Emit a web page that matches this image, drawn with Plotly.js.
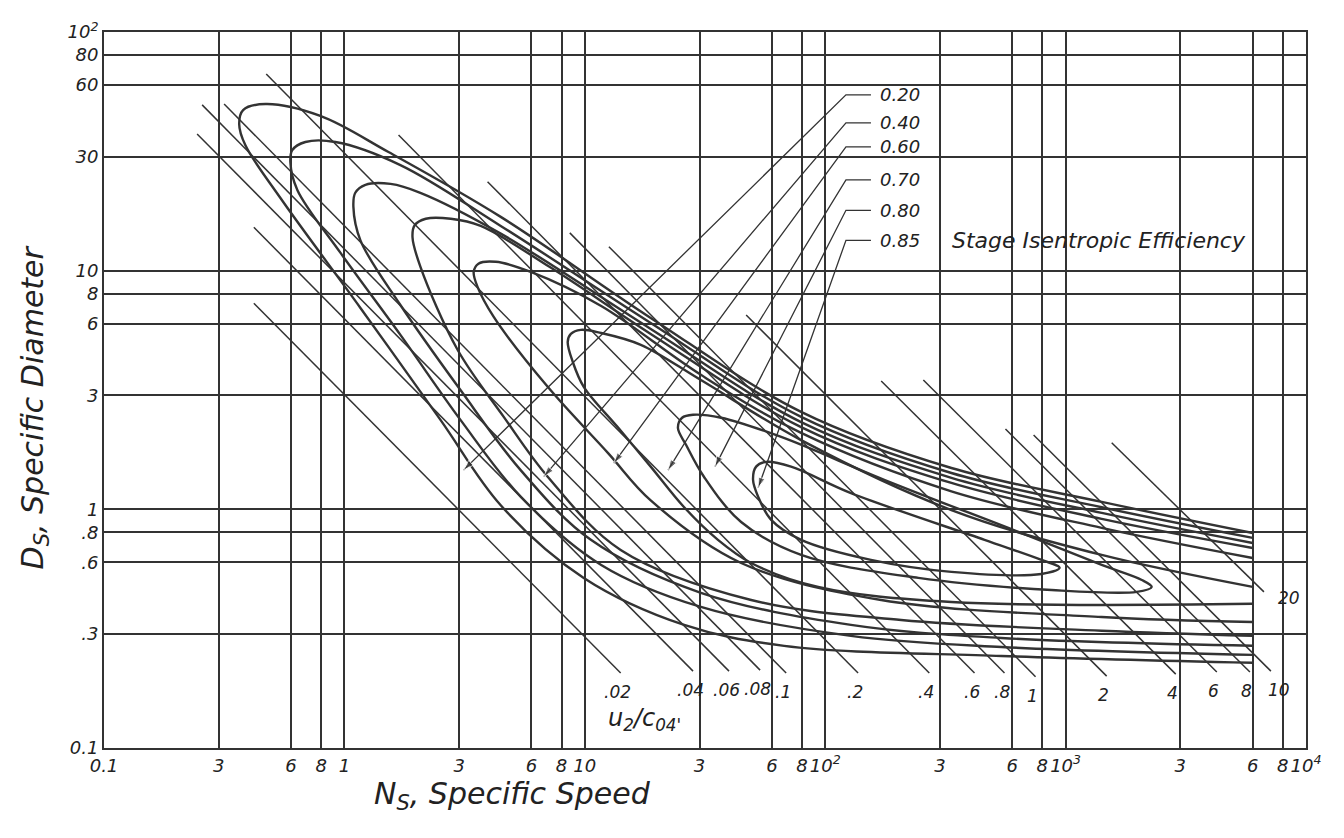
<!DOCTYPE html>
<html><head><meta charset="utf-8">
<script src="https://cdn.plot.ly/plotly-3.0.1.min.js"></script>
<style>html,body{margin:0;padding:0;background:#fff}#chart{width:1344px;height:838px}</style>
</head><body><div id="chart"></div>
<script>
// ---- axis ticks ----
const xTickVals = [0.1, 0.3, 0.6, 0.8, 1, 3, 6, 8, 10, 30, 60, 80, 100, 300, 600, 800, 1000, 3000, 6000, 8000, 10000];
const xTickText = ['0.1','3','6','8','1','3','6','8','10','3','6','8','10<sup>2</sup>','3','6','8','10<sup>3</sup>','3','6','8','10<sup>4</sup>'];
const yTickVals = [0.1, 0.3, 0.6, 0.8, 1, 3, 6, 8, 10, 30, 60, 80, 100];
const yTickText = ['0.1','.3','.6','.8','1','3','6','8','10','30','60','80','10<sup>2</sup>'];

// ---- u2/c04' lines (Ns, Ds at both ends) ----
const uRatio   = ['.02','.04','.06','.08','.1','.2','.4','.6','.8','1','2','4','6','8','10','20'];
const uStartNs = [0.42, 0.42, 0.244, 0.256, 0.316, 0.473, 1.68, 3.94, 8.66, 12.6, 46.9, 171, 256, 562, 736, 1555];
const uStartDs = [7.3, 15.2, 37.4, 49.5, 49.9, 66.7, 37.0, 23.6, 14.4, 12.6, 6.52, 3.45, 3.48, 2.17, 2.05, 1.90];
const uEndNs   = [14.1, 28.2, 39.8, 53.6, 68.8, 137, 271, 418, 557, 750, 1482, 2872, 4256, 5843, 7145, 6683];
const uEndDs   = [0.206, 0.21, 0.21, 0.212, 0.206, 0.206, 0.206, 0.206, 0.206, 0.199, 0.2, 0.204, 0.208, 0.208, 0.21, 0.451];

// ---- efficiency contours ----
const loop1Ns = [6000, 1413, 335, 79.4, 18.8, 4.47, 1.525, 0.794, 0.469, 0.379, 0.365, 0.387, 0.541, 1.166, 2.51, 4.47, 9.9, 25.9, 67.5, 541, 6000];
const loop1Ds = [0.796, 1.074, 1.49, 2.56, 6.34, 16.8, 31.4, 44.5, 49.9, 47.1, 41.2, 33.6, 20.2, 6.98, 2.37, 1.04, 0.516, 0.328, 0.268, 0.243, 0.2275];
const loop2Ns = [6000, 1413, 335, 79.4, 18.8, 4.47, 1.71, 0.917, 0.688, 0.607, 0.596, 0.637, 0.962, 1.71, 3.04, 5.41, 11.7, 30.4, 128, 541, 6000];
const loop2Ds = [0.759, 1.02, 1.42, 2.44, 6.04, 15.4, 27.7, 34.6, 34.6, 32.0, 28.5, 21.8, 11.9, 5.38, 2.37, 1.13, 0.585, 0.390, 0.295, 0.265, 0.2455];
const loop3Ns = [6000, 1413, 335, 79.4, 18.8, 4.47, 2.07, 1.556, 1.223, 1.11, 1.09, 1.166, 1.71, 3.04, 5.41, 10.6, 30.4, 128, 541, 6000];
const loop3Ds = [0.723, 0.966, 1.355, 2.32, 5.70, 14.3, 21.2, 23.1, 22.9, 21.2, 18.5, 13.4, 7.18, 3.16, 1.46, 0.745, 0.447, 0.328, 0.289, 0.268];
const loop4Ns = [6000, 1413, 335, 79.4, 18.8, 7.21, 3.69, 2.77, 2.18, 1.96, 1.92, 2.07, 2.96, 4.60, 7.01, 14.1, 49.2, 207, 1413, 6000];
const loop4Ds = [0.689, 0.912, 1.29, 2.21, 5.43, 10.3, 15.4, 16.5, 16.5, 15.5, 13.8, 10.4, 4.65, 2.44, 1.37, 0.676, 0.417, 0.344, 0.310, 0.295];
const loop5Ns = [6000, 1413, 335, 79.4, 30.4, 11.7, 5.96, 4.26, 3.61, 3.45, 3.58, 4.18, 7.01, 12.5, 18.8, 44.7, 171, 1413, 6000];
const loop5Ds = [0.625, 0.836, 1.19, 2.09, 3.66, 7.11, 9.88, 10.9, 10.7, 9.88, 8.55, 6.40, 3.26, 1.72, 1.09, 0.596, 0.417, 0.354, 0.337];
const loop6Ns = [6000, 1413, 335, 79.4, 30.4, 17.1, 11.7, 9.62, 8.75, 8.49, 8.91, 9.9, 13.7, 18.8, 25.9, 35.8, 49.2, 93.5, 335, 6000];
const loop6Ds = [0.473, 0.644, 0.993, 1.95, 3.48, 4.89, 5.48, 5.65, 5.43, 5.03, 4.15, 3.26, 2.21, 1.51, 1.02, 0.745, 0.596, 0.473, 0.409, 0.402];
const loop7Ns = [24.4, 25.4, 28.2, 36.9, 65.6, 176, 637, 1413, 2075, 2282, 1977, 875, 244, 79.4, 44.7, 31.3, 26.4, 24.4];
const loop7Ds = [2.19, 2.42, 2.49, 2.42, 2.01, 1.33, 0.804, 0.585, 0.506, 0.473, 0.451, 0.459, 0.516, 0.644, 0.885, 1.37, 1.86, 2.19];
const loop8Ns = [50.1, 51.6, 56.8, 72.1, 128, 460, 794, 944, 794, 335, 155, 79.4, 59.6, 52.6, 50.1];
const loop8Ds = [1.33, 1.51, 1.58, 1.51, 1.17, 0.745, 0.614, 0.569, 0.536, 0.547, 0.614, 0.745, 0.903, 1.13, 1.33];

// ---- efficiency labels with leader arrows ----
const effLabels  = ['0.20','0.40','0.60','0.70','0.80','0.85'];
const effTipNs   = [3.13, 6.75, 13.2, 22.2, 34.8, 52.6];
const effTipDs   = [1.46, 1.37, 1.56, 1.46, 1.51, 1.23];
const effElbowNs = 122;
const effTickEndNs = 155;
const effLabelNs = 166;
const effElbowDs = [54.5, 41.6, 33.0, 24.0, 17.9, 13.4];

const INK = '#333';
const FONT = 'DejaVu Sans, Liberation Sans, sans-serif';
const traces = [];

for (let i = 0; i < uRatio.length; i++) {
  traces.push({x: [uStartNs[i], uEndNs[i]], y: [uStartDs[i], uEndDs[i]], mode: 'lines',
    line: {color: INK, width: 1.5}, hoverinfo: 'skip', showlegend: false});
}
const loops = [[loop1Ns, loop1Ds],[loop2Ns, loop2Ds],[loop3Ns, loop3Ds],[loop4Ns, loop4Ds],
               [loop5Ns, loop5Ds],[loop6Ns, loop6Ds],[loop7Ns, loop7Ds],[loop8Ns, loop8Ds]];
loops.forEach(([xs, ys]) => {
  traces.push({x: xs, y: ys, mode: 'lines', line: {color: INK, width: 2.4, shape: 'spline', smoothing: 1},
    hoverinfo: 'skip', showlegend: false});
});
for (let i = 0; i < effLabels.length; i++) {
  traces.push({x: [effTickEndNs, effElbowNs, effTipNs[i]], y: [effElbowDs[i], effElbowDs[i], effTipDs[i]],
    mode: 'lines+markers', line: {color: INK, width: 1.3},
    marker: {symbol: 'arrow', angleref: 'previous', size: [0, 0, 11], color: INK},
    hoverinfo: 'skip', showlegend: false});
}

const L = Math.log10;
const annotations = [];
for (let i = 0; i < uRatio.length; i++) {
  const is20 = uRatio[i] === '20';
  annotations.push({x: L(uEndNs[i]), y: L(uEndDs[i]), xref: 'x', yref: 'y', text: uRatio[i], showarrow: false,
    xanchor: is20 ? 'left' : 'center', yanchor: 'middle', xshift: is20 ? 12 : (uRatio[i]==='10' ? 8 : -3), yshift: is20 ? -6 : -19,
    font: {family: FONT, size: 17, color: '#222', style: 'italic'}});
}
for (let i = 0; i < effLabels.length; i++) {
  annotations.push({x: L(effLabelNs), y: L(effElbowDs[i]), xref: 'x', yref: 'y', text: effLabels[i], showarrow: false,
    xanchor: 'left', yanchor: 'middle', font: {family: FONT, size: 18, color: '#222', style: 'italic'}});
}
annotations.push({x: L(330), y: L(13.4), xref: 'x', yref: 'y', text: 'Stage Isentropic Efficiency', showarrow: false,
  xanchor: 'left', yanchor: 'middle', font: {family: FONT, size: 22, color: '#222', style: 'italic'}});
annotations.push({x: 0.45, y: 0.04, xref: 'paper', yref: 'paper', text: 'u<sub>2</sub>/c<sub>04\'</sub>', showarrow: false,
  xanchor: 'center', yanchor: 'middle', font: {family: FONT, size: 24, color: '#222', style: 'italic'}});
annotations.push({x: 0.223, y: -0.066, xref: 'paper', yref: 'paper', text: 'N<sub>S</sub>, Specific Speed', showarrow: false,
  xanchor: 'left', yanchor: 'middle', font: {family: FONT, size: 30, color: '#222', style: 'italic'}});
annotations.push({x: -0.058, y: 0.476, xref: 'paper', yref: 'paper', text: 'D<sub>S</sub>, Specific Diameter', showarrow: false,
  textangle: -90, xanchor: 'center', yanchor: 'middle', font: {family: FONT, size: 30, color: '#222', style: 'italic'}});

const axisCommon = {type: 'log', showgrid: true, gridcolor: INK, gridwidth: 2, showline: true, linecolor: INK,
  linewidth: 2, mirror: true, ticks: '', zeroline: false, fixedrange: true,
  tickfont: {family: FONT, size: 18, color: '#222', style: 'italic'}};

const layout = {
  width: 1344, height: 838, paper_bgcolor: '#fff', plot_bgcolor: '#fff',
  margin: {l: 104, r: 38, t: 32, b: 90},
  showlegend: false,
  xaxis: Object.assign({}, axisCommon, {range: [-1, 4], tickvals: xTickVals, ticktext: xTickText}),
  yaxis: Object.assign({}, axisCommon, {range: [-1, 2], tickvals: yTickVals, ticktext: yTickText}),
  annotations: annotations
};
Plotly.newPlot('chart', traces, layout, {displayModeBar: false, staticPlot: true});
</script></body></html>
